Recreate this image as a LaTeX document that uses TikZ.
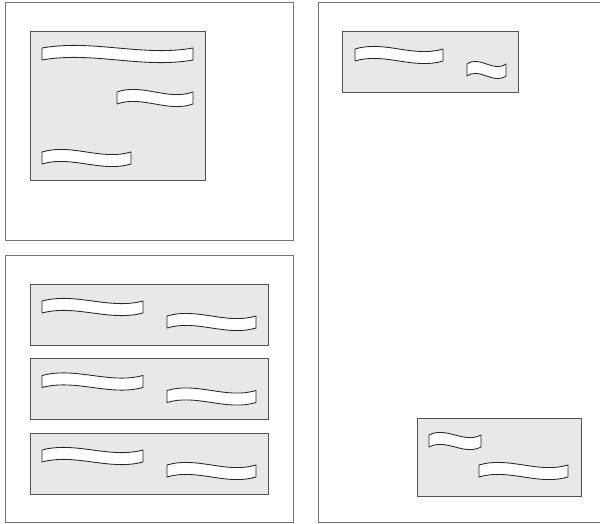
\documentclass[tikz,border=0pt]{standalone}
\tikzset{
  panel/.style={draw=black!55, line width=1pt, fill=white},
  card/.style={draw=black!68, line width=1pt, fill=black!9},
  ribbon/.style={draw=black!85, line width=0.85pt, fill=white, line join=round},
}
\newcommand{\wavy}[3]{%
  \draw[ribbon] ({#1},{#3-6}) .. controls ({#1+(#2-#1)/3},{#3-6-9}) and ({#1+2*(#2-#1)/3},{#3-6+9}) .. ({#2},{#3-6})
    -- ({#2},{#3+6}) .. controls ({#1+2*(#2-#1)/3},{#3+6+9}) and ({#1+(#2-#1)/3},{#3+6-9}) .. ({#1},{#3+6}) -- cycle;}
\begin{document}
\begin{tikzpicture}[x=1pt,y=-1pt]
\useasboundingbox (0,0) rectangle (600,524);
% panels
\draw[panel] (5,3) rectangle (293,240);
\draw[panel] (5,255) rectangle (293,522);
\draw[panel] (318,3) rectangle (602,522);
% top-left card
\draw[card] (30,32) rectangle (205,181);
\wavy{42}{193}{54}
\wavy{117}{193}{98}
\wavy{42}{131}{158}
% bottom-left cards
\foreach \dy in {0,74.5,149}{
  \draw[card] (30,{284+\dy}) rectangle (268,{345+\dy});
  \wavy{42}{143}{307+\dy}
  \wavy{167}{256}{322+\dy}
}
% right cards
\draw[card] (342,32) rectangle (518,93);
\wavy{355}{443}{55}
\wavy{467}{506}{70}
\draw[card] (417,418) rectangle (581,496);
\wavy{429}{481}{441}
\wavy{479}{568}{471}
\end{tikzpicture}
\end{document}
